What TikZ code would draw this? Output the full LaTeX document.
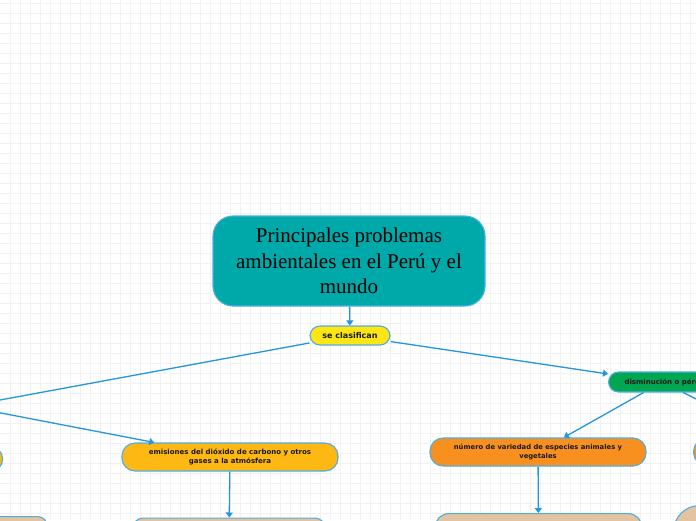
\documentclass[tikz,border=0pt]{standalone}
\usepackage{fontspec}
\setmainfont{Liberation Serif}
\newfontfamily\mapfont{DejaVu Sans}
\usetikzlibrary{arrows.meta,positioning}
\definecolor{tealmap}{HTML}{00A9A9}
\definecolor{amarillo}{HTML}{FFE514}
\definecolor{ambar}{HTML}{FDB813}
\definecolor{verde}{HTML}{00A651}
\definecolor{naranja}{HTML}{F7901E}
\definecolor{arena}{HTML}{E4C3A0}
\definecolor{borde}{HTML}{4DAEE6}
\definecolor{linea}{HTML}{2496DC}
\definecolor{rejilla}{HTML}{F1F1F1}
\newcommand{\txt}[1]{\mapfont\bfseries\fontsize{#1}{9}\selectfont}

\begin{document}
\begin{tikzpicture}[x=1pt, y=-1pt,
  caja/.style={draw=borde, line width=1.1pt, rounded corners=10pt, align=center, inner sep=0pt, text=black!90, font=\txt{7}},
  conector/.style={draw=linea, line width=1.3pt, -{Triangle[width=7pt,length=5pt]}}]
  % Frame and grid
  \useasboundingbox (0,0) rectangle (696,520);
  \clip (0,0) rectangle (696,520);
  \fill[white] (0,0) rectangle (696,520);
  \foreach \x in {10,20,...,690} {
    \draw[rejilla, line width=0.8pt] (\x,0) -- (\x,520);
  }
  \foreach \y in {3,13,...,513} {
    \draw[rejilla, line width=0.8pt] (0,\y) -- (696,\y);
  }

  % Central topic
  \node[caja, fill=tealmap, rounded corners=20pt, minimum width=272pt, minimum height=90pt,
        font=\fontsize{21}{25.8}\selectfont, text=black] (tema) at (349,261)
        {Principales problemas\\ambientales en el Perú y el\\mundo};
  \node[caja, fill=amarillo, minimum width=80pt, minimum height=19pt, font=\txt{8}] (clas) at (350,335.5) {se clasifican};

  % First level
  \node[caja, fill=verde, minimum width=100pt, minimum height=22pt] (izq) at (-60,411) {};
  \node[caja, fill=verde, anchor=west, minimum height=20pt, inner xsep=16pt] (dism) at (608,382) {disminución o pérd};

  % Second level
  \node[caja, fill=ambar, minimum width=120pt, minimum height=22pt, anchor=east] (izqhijo) at (3,459) {};
  \node[caja, fill=ambar, minimum width=216pt, minimum height=28pt, rounded corners=13pt] (emis) at (230,457)
        {emisiones del dióxido de carbono y otros\\gases a la atmósfera};
  \node[caja, fill=naranja, minimum width=216pt, minimum height=28pt, rounded corners=13pt, font=\txt{6.8}] (num) at (538,452)
        {número de variedad de especies animales y\\vegetales};
  \node[caja, fill=naranja, minimum width=216pt, minimum height=27pt, rounded corners=13pt, anchor=west] (der) at (693,452) {};

  % Third level
  \node[caja, fill=arena, minimum width=150pt, minimum height=40pt, anchor=north east] (izqnieto) at (48,516) {};
  \node[caja, fill=arena, minimum width=192pt, minimum height=40pt, anchor=north] (emisnieto) at (229,517.5) {};
  \node[caja, fill=arena, minimum width=207pt, minimum height=40pt, anchor=north, rounded corners=14pt] (numnieto) at (538.5,513) {};
  \node[caja, fill=arena, minimum width=120pt, minimum height=60pt, anchor=north west, rounded corners=26pt] (dernieto) at (673,505) {};

  % Connectors
  \draw[conector] (tema) -- (clas);
  \draw[conector] (clas) -- (izq);
  \draw[conector] (clas) -- (dism);
  \draw[conector] (izq.east) -- (emis);
  \draw[conector] (izq) -- (izqhijo);
  \draw[conector] (dism) -- (num);
  \draw[conector] (dism) -- (der);
  \draw[conector] (emis) -- (emisnieto);
  \draw[conector] (num) -- (numnieto);
\end{tikzpicture}
\end{document}
